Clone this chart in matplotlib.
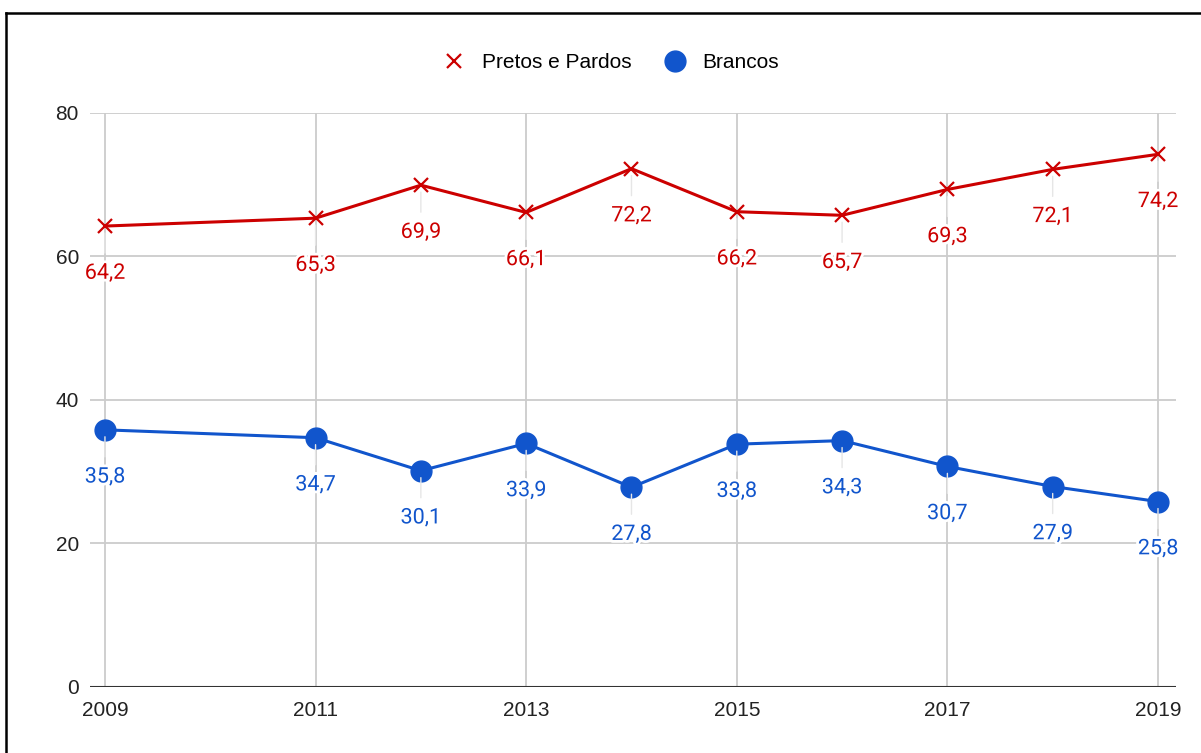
import matplotlib as mpl

mpl.use("Agg")
import matplotlib.pyplot as plt
import matplotlib.patheffects as pe
from matplotlib.lines import Line2D

# --- data ---
YEARS = [2009, 2011, 2012, 2013, 2014, 2015, 2016, 2017, 2018, 2019]
PRETOS = [64.2, 65.3, 69.9, 66.1, 72.2, 66.2, 65.7, 69.3, 72.1, 74.2]
BRANCOS = [35.8, 34.7, 30.1, 33.9, 27.8, 33.8, 34.3, 30.7, 27.9, 25.8]
XTICKS = [2009, 2011, 2013, 2015, 2017, 2019]
YTICKS = [0, 20, 40, 60, 80]

RED = "#cc0000"
BLUE = "#1155cc"
TICK_FONT = "Liberation Sans"
LABEL_FONT = "Roboto"

W, H = 1201, 753
fig = plt.figure(figsize=(W / 100, H / 100), dpi=100)
ax = fig.add_axes([90 / W, 1 - 686.7 / H, (1176 - 90) / W, (686.7 - 112.7) / H])

ax.plot(YEARS, PRETOS, color=RED, lw=2.2, marker="x", markersize=10.5,
        markeredgewidth=1.6, label="Pretos e Pardos", zorder=4)
ax.plot(YEARS, BRANCOS, color=BLUE, lw=2.2, marker="o", markersize=15,
        label="Brancos", zorder=4)

# value labels under each point, with a white halo and a faint leader
halo = [pe.withStroke(linewidth=4, foreground="white")]
for series, col in ((PRETOS, RED), (BRANCOS, BLUE)):
    for x, y in zip(YEARS, series):
        ax.annotate(
            f"{y:.1f}".replace(".", ","),
            xy=(x, y), xytext=(0, -34), textcoords="offset points",
            ha="center", va="center", color=col, fontsize=15.5,
            family=LABEL_FONT, path_effects=halo, zorder=5,
            arrowprops=dict(arrowstyle="-", color="#e6e6e6", lw=1.0,
                            shrinkA=5, shrinkB=5),
        )

ax.set_xlim(2008.858, 2019.171)
ax.set_ylim(0, 80)
ax.set_xticks(XTICKS)
ax.set_yticks(YTICKS)
ax.set_xticklabels([str(v) for v in XTICKS], family=TICK_FONT, fontsize=15,
                   color="#222222")
ax.set_yticklabels([str(v) for v in YTICKS], family=TICK_FONT, fontsize=15,
                   color="#222222")
ax.tick_params(length=0)
ax.tick_params(axis="x", pad=10.5)
ax.tick_params(axis="y", pad=8)
ax.grid(True, color="#cccccc", lw=1.3, zorder=0)
ax.set_axisbelow(True)
for s in ax.spines.values():
    s.set_visible(False)
ax.axhline(0, color="#333333", lw=1.5, zorder=3)

fig.legend(loc="center", bbox_to_anchor=(612 / W, 1 - 63 / H), ncol=2,
           frameon=False, prop={"family": TICK_FONT, "size": 15},
           handlelength=0.9, handletextpad=0.9, columnspacing=1.6)
leg = fig.legends[0]
for h in leg.legend_handles:
    h.set_linestyle("none")

# black frame (top and left edges visible in the reference)
fig.add_artist(Line2D([6 / W, 1.0], [1 - 13 / H, 1 - 13 / H], color="black", lw=1.8))
fig.add_artist(Line2D([6 / W, 6 / W], [0.0, 1 - 13 / H], color="black", lw=1.8))

fig.savefig("out.png", dpi=100)
